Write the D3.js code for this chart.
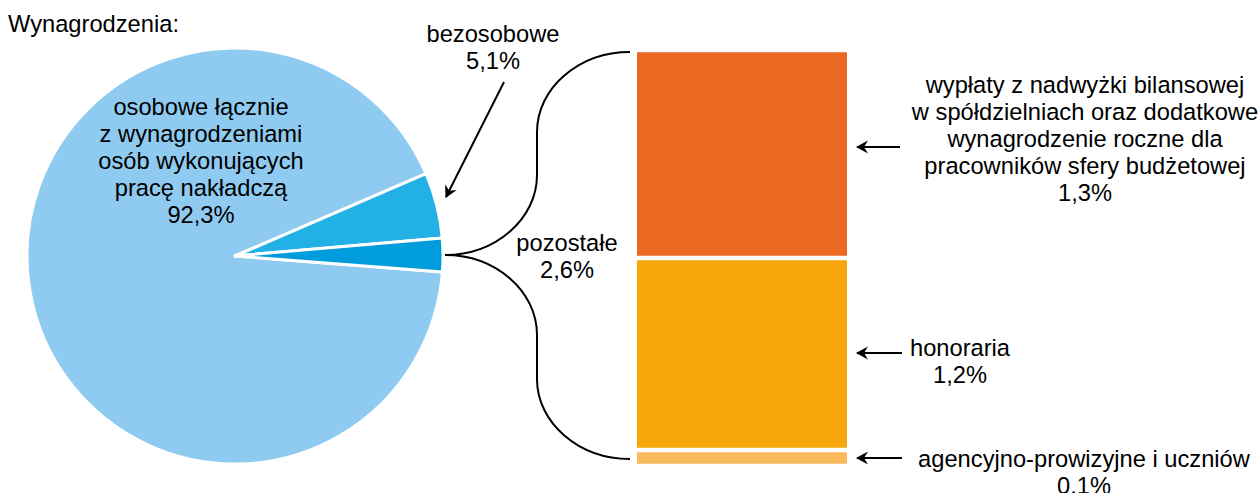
<!DOCTYPE html>
<html>
  <head>
    <meta charset="utf-8">
    <script type="text/javascript" src="https://cdn.jsdelivr.net/npm/d3@7"></script>
    <style type="text/css">

html, body {
  margin: 0;
  background: #fff;
}

svg {
  display: block;
  font-family: "Liberation Sans", Arial, sans-serif;
  font-size: 23.7px;
}

    </style>
  </head>
  <body>
    <div id="chart"></div>
    <script type="text/javascript">

// Pie: main split of wages (%)
var pieNames = ["osobowe", "bezosobowe", "pozostałe"];
var pieValues = [92.3, 5.1, 2.6];
var pieColors = ["#8fcbf0", "#21b1e4", "#009cdb"];

// Bar: breakdown of "pozostałe" (%)
var barNames = ["wypłaty", "honoraria", "agencyjno"];
var barValues = [1.3, 1.2, 0.1];
var barColors = ["#ec6923", "#f5a70b", "#f8ba5a"];

// Label texts
var pieLabels = [
  ["osobowe łącznie", "z wynagrodzeniami", "osób wykonujących", "pracę nakładczą", "92,3%"],
  ["bezosobowe", "5,1%"],
  ["pozostałe", "2,6%"]
];
var barLabels = [
  ["wypłaty z nadwyżki bilansowej", "w spółdzielniach oraz dodatkowe", "wynagrodzenie roczne dla", "pracowników sfery budżetowej", "1,3%"],
  ["honoraria", "1,2%"],
  ["agencyjno-prowizyjne i uczniów", "0.1%"]
];

var width = 1259, height = 493, lh = 27;

var svg = d3.select("#chart").append("svg")
    .attr("width", width)
    .attr("height", height);

// arrow head
svg.append("defs").append("marker")
    .attr("id", "head")
    .attr("viewBox", "-12 -7 14 14")
    .attr("markerUnits", "userSpaceOnUse")
    .attr("markerWidth", 14)
    .attr("markerHeight", 14)
    .attr("orient", "auto")
  .append("path")
    .attr("d", "M1,0 L-11,-6.5 L-7,0 L-11,6.5 Z")
    .attr("fill", "#000");

svg.append("text")
    .attr("x", 8)
    .attr("y", 32)
    .text("Wynagrodzenia:");

// --- pie ---
var cx = 235, cy = 256, r = 208;
var start = 94.4 * Math.PI / 180;

var pie = d3.pie().sort(null)
    .startAngle(start)
    .endAngle(start + 2 * Math.PI);
var arcs = pie(pieValues);
var arc = d3.arc().innerRadius(0).outerRadius(r);

var g = svg.append("g").attr("transform", "translate(" + cx + "," + cy + ")");
g.selectAll("path")
    .data(arcs)
  .enter().append("path")
    .attr("d", arc)
    .attr("fill", function(d, i) { return pieColors[i]; })
    .attr("stroke", "#fff")
    .attr("stroke-width", 3)
    .attr("stroke-linejoin", "round");

function lines(sel, rows, x, y) {
  var t = sel.append("text").attr("text-anchor", "middle");
  rows.forEach(function(s, i) {
    t.append("tspan").attr("x", x).attr("y", y + i * lh).text(s);
  });
  return t;
}

lines(svg, pieLabels[0], 201, 115);
lines(svg, pieLabels[1], 493, 42);
lines(svg, pieLabels[2], 567, 251);

// arrow to bezosobowe
svg.append("line")
    .attr("x1", 504).attr("y1", 82)
    .attr("x2", 446).attr("y2", 197)
    .attr("stroke", "#000").attr("stroke-width", 2)
    .attr("marker-end", "url(#head)");

// --- stacked bar ---
var y = d3.scaleLinear()
    .domain([0, d3.sum(barValues)])
    .range([50, 466]);
var cum = d3.cumsum(barValues);
var gap = 2.25;

svg.selectAll("rect.seg")
    .data(barValues)
  .enter().append("rect")
    .attr("class", "seg")
    .attr("x", 637)
    .attr("width", 210)
    .attr("y", function(d, i) { return y(cum[i] - d) + gap; })
    .attr("height", function(d) { return y(d) - y(0) - 2 * gap; })
    .attr("fill", function(d, i) { return barColors[i]; });

// brace from the pozostałe slice to the bar (quarter-ellipse corners)
var p = arcs[2], mid = (p.startAngle + p.endAngle) / 2;
var px = cx + (r + 2) * Math.sin(mid), py = cy - (r + 2) * Math.cos(mid);
var bx = 537, yTop = y.range()[0] + 2, yBot = y.range()[1] - 7, ex = 630;
var k = 0.55, ry = 80;

function corner(x0, y0, x1, y1, horizFirst) {
  // elliptical quarter from (x0,y0) to (x1,y1)
  if (horizFirst) {
    return "C" + (x0 + k * (x1 - x0)) + "," + y0 + " " + x1 + "," + (y1 - k * (y1 - y0)) + " " + x1 + "," + y1;
  }
  return "C" + x0 + "," + (y0 + k * (y1 - y0)) + " " + (x1 - k * (x1 - x0)) + "," + y1 + " " + x1 + "," + y1;
}

var brace = "M" + ex + "," + yTop +
    corner(ex, yTop, bx, yTop + ry, true) +
    "L" + bx + "," + (py - ry) +
    corner(bx, py - ry, px, py, false) +
    corner(px, py, bx, py + ry, true) +
    "L" + bx + "," + (yBot - ry) +
    corner(bx, yBot - ry, ex, yBot, false);

svg.append("path")
    .attr("d", brace)
    .attr("fill", "none")
    .attr("stroke", "#000")
    .attr("stroke-width", 2);

// labels on the right
var labelPos = [[1085, 93, 147, 900], [960, 356, 353, 902], [1084, 467, 458, 902]];
barLabels.forEach(function(rows, i) {
  var lp = labelPos[i];
  lines(svg, rows, lp[0], lp[1]);
  svg.append("line")
      .attr("x1", lp[3]).attr("y1", lp[2])
      .attr("x2", 857).attr("y2", lp[2])
      .attr("stroke", "#000").attr("stroke-width", 2)
      .attr("marker-end", "url(#head)");
});

    </script>
  </body>
</html>
